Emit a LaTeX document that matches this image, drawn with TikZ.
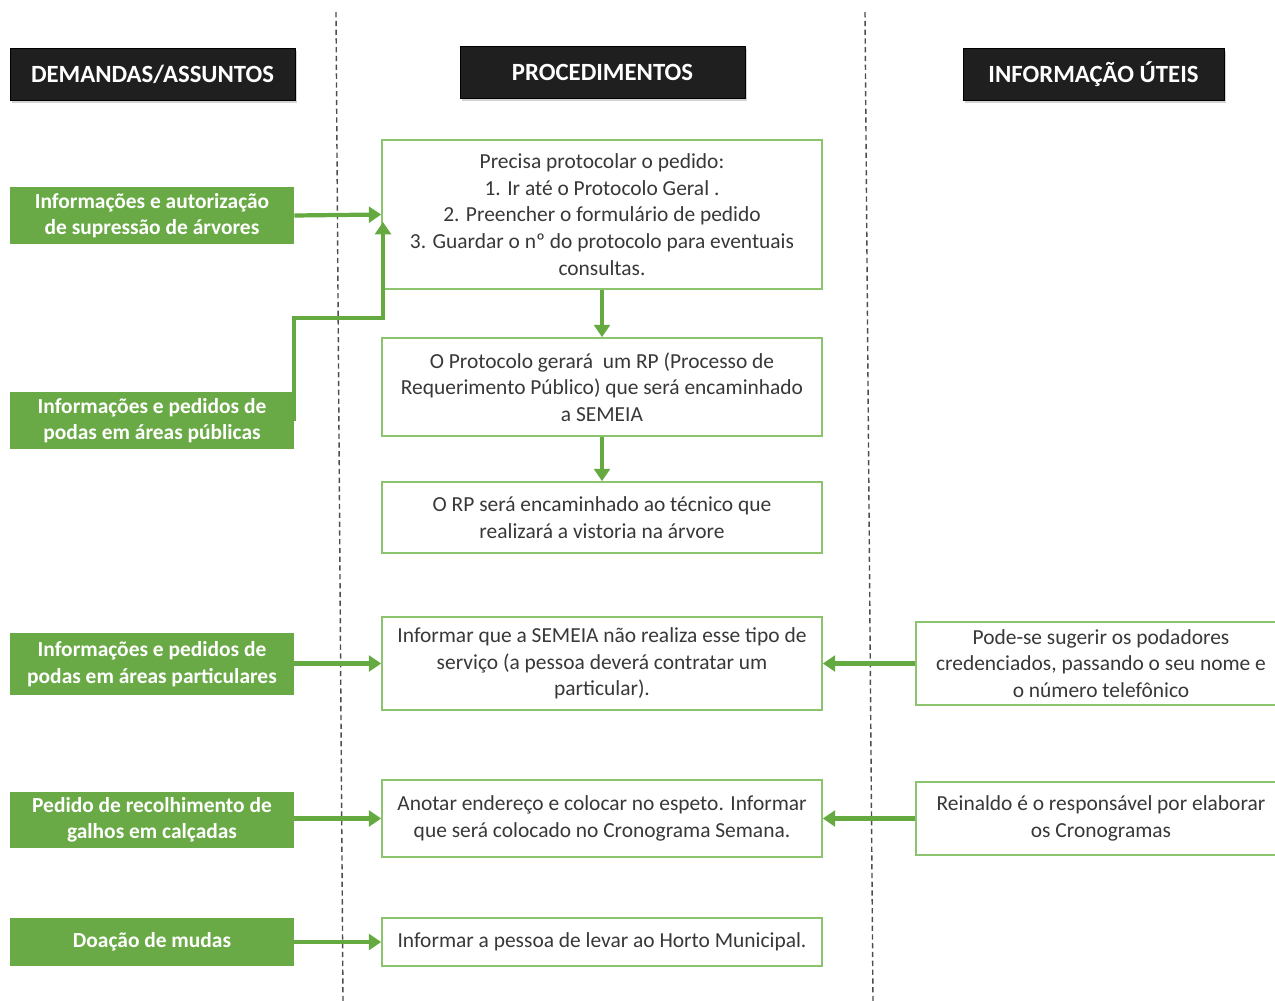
\documentclass[tikz,border=0pt]{standalone}
\usepackage{fontspec}
\setmainfont{Carlito}
\usetikzlibrary{arrows.meta,shadows}
\definecolor{gfill}{HTML}{6AAA46}
\definecolor{gline}{HTML}{64AA40}
\definecolor{gborder}{HTML}{8CC46E}
\definecolor{txt}{HTML}{383838}
\tikzset{
  px/.style={x=0.02cm,y=-0.02cm},
  hdr/.style={draw=black,fill=black!88,text=white,font=\bfseries\fontsize{14.1}{16}\selectfont,minimum height=1.04cm,inner sep=0pt,drop shadow={shadow xshift=1pt,shadow yshift=-1.5pt,opacity=0.35}},
  dem/.style={fill=gfill,text=white,font=\bfseries\fontsize{12.2}{15}\selectfont,align=center,minimum width=5.68cm,inner sep=0pt},
  proc/.style={draw=gborder,line width=1pt,fill=white,text=txt,font=\fontsize{12.2}{15.2}\selectfont,align=center,minimum width=8.8cm,inner sep=0pt},
  info/.style={draw=gborder,line width=1pt,fill=white,text=txt,font=\fontsize{12.2}{15.2}\selectfont,align=center,minimum width=7.4cm,inner sep=0pt},
  arr/.style={draw=gline,line width=2.4pt,-{Triangle[length=7pt,width=9pt]}},
  sep/.style={draw=black!70,line width=0.8pt,dash pattern=on 3pt off 2pt},
}
\begin{document}
\begin{tikzpicture}[px]
\useasboundingbox (0,0) rectangle (1275,1001);
\clip (0,0) rectangle (1275,1001);
% separators
\coordinate (s1a) at (336,12); \coordinate (s1b) at (343,1001);
\coordinate (s2a) at (865,12); \coordinate (s2b) at (873,1001);
\draw[sep] (s1a) -- (s1b);
\draw[sep] (s2a) -- (s2b);
% headers
\node[hdr,minimum width=5.7cm] (h1) at (152.5,74) {DEMANDAS/ASSUNTOS};
\node[hdr,minimum width=5.7cm] (h2) at (602.5,72) {PROCEDIMENTOS};
\node[hdr,minimum width=5.22cm] (h3) at (1093.5,74) {INFORMAÇÃO ÚTEIS};
% demands
\node[dem,minimum height=1.14cm] (g1) at (152,215.5) {Informações e autorização\\de supressão de árvores};
\node[dem,minimum height=1.14cm] (g2) at (152,420.5) {Informações e pedidos de\\podas em áreas públicas};
\node[dem,minimum height=1.24cm] (g3) at (152,664) {Informações e pedidos de\\podas em áreas particulares};
\node[dem,minimum height=1.12cm] (g4) at (152,820) {Pedido de recolhimento de\\galhos em calçadas};
\node[dem,minimum height=0.96cm] (g5) at (152,942) {Doação de mudas};
% procedures
\node[proc,minimum height=2.98cm] (m1) at (602,214.5) {Precisa protocolar o pedido:\\1. Ir até o Protocolo Geral .\\2. Preencher o formulário de pedido\\3. Guardar o nº do protocolo para eventuais\\consultas.};
\node[proc,minimum height=1.96cm] (m2) at (602,387) {O Protocolo gerará\ \ um RP (Processo de\\Requerimento Público) que será encaminhado\\a SEMEIA};
\node[proc,minimum height=1.42cm] (m3) at (602,517.5) {O RP será encaminhado ao técnico que\\realizará a vistoria na árvore};
\node[proc,minimum height=1.86cm] (m4) at (602,663.5) {Informar que a SEMEIA não realiza esse tipo de\\serviço (a pessoa deverá contratar um\\particular).};
\node[proc,minimum height=1.54cm] (m5) at (602,818.5) {Anotar endereço e colocar no espeto. Informar\\que será colocado no Cronograma Semana.};
\node[proc,minimum height=0.96cm] (m6) at (602,942) {Informar a pessoa de levar ao Horto Municipal.};
% info
\node[info,minimum height=1.66cm] (r1) at (1101,663.5) {Pode-se sugerir os podadores\\credenciados, passando o seu nome e\\o número telefônico};
\node[info,minimum height=1.46cm] (r2) at (1101,818.5) {Reinaldo é o responsável por elaborar\\os Cronogramas};
% connectors
\coordinate (bend) at (383,318);
\coordinate (m1in) at (383,222);
\draw[arr] (g1.east) -- (m1.west);
\draw[arr] (g2.east) |- (bend) -- (m1in);
\draw[arr] (m1.south) -- (m2.north);
\draw[arr] (m2.south) -- (m3.north);
\draw[arr] (g3.east |- m4.west) -- (m4.west);
\draw[arr] (g4.east |- m5.west) -- (m5.west);
\draw[arr] (g5.east) -- (m6.west);
\draw[arr] (r1.west) -- (m4.east);
\draw[arr] (r2.west) -- (m5.east);
\end{tikzpicture}
\end{document}
